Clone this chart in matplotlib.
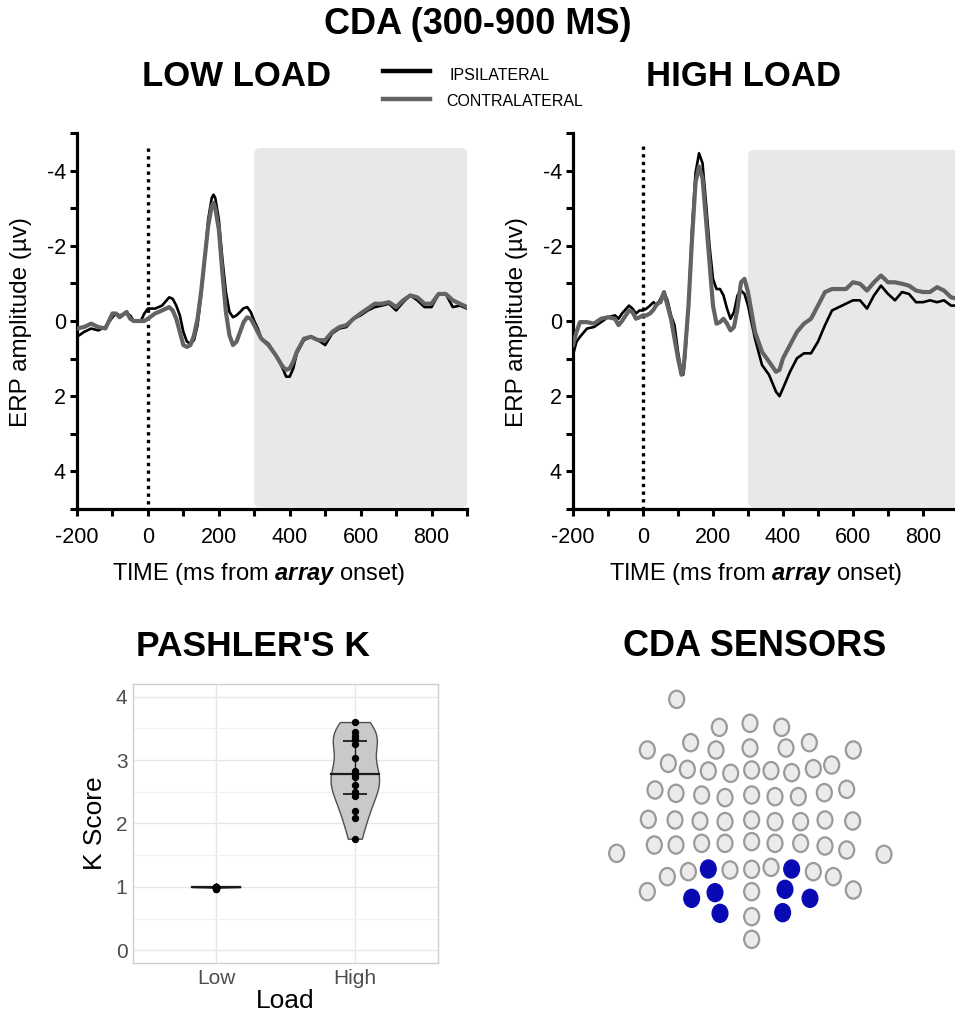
import matplotlib
matplotlib.use('Agg')
import matplotlib.pyplot as plt
from matplotlib.patches import FancyBboxPatch, Ellipse
from matplotlib.lines import Line2D
from matplotlib.ticker import MultipleLocator
import numpy as np

plt.rcParams['font.family'] = ['Liberation Sans', 'DejaVu Sans']
plt.rcParams['axes.unicode_minus'] = False
plt.rcParams['mathtext.fontset'] = 'custom'
plt.rcParams['mathtext.rm'] = 'Liberation Sans'
plt.rcParams['mathtext.it'] = 'Liberation Sans:italic'
plt.rcParams['mathtext.bf'] = 'Liberation Sans:bold'
plt.rcParams['mathtext.bfit'] = 'Liberation Sans:italic:bold'

# ---------------- DATA ----------------
time_low = [-200, -180, -160, -140, -120, -100, -90, -80, -60, -50, -40, -20, -10, 0, 20, 40, 60, 70, 80, 90,
            100, 110, 120, 130, 140, 150, 160, 170, 180, 185, 190, 200, 210, 220, 230, 240, 250, 260, 270, 280,
            290, 300, 310, 320, 340, 360, 380, 390, 400, 410, 420, 440, 460, 480, 500, 520, 540, 560, 580, 600,
            620, 640, 660, 680, 700, 720, 740, 760, 780, 800, 820, 840, 860, 880, 900]
ipsi_low = [0.42, 0.29, 0.20, 0.25, 0.16, -0.10, -0.20, -0.15, -0.20, -0.15, 0.00, 0.00, -0.20, -0.33, -0.33, -0.41, -0.63, -0.59, -0.41, -0.15,
            0.29, 0.55, 0.60, 0.51, 0.11, -0.68, -1.65, -2.70, -3.27, -3.36, -3.27, -2.70, -1.65, -0.77, -0.24, -0.10, -0.15, -0.24, -0.34, -0.37,
            -0.24, 0.00, 0.20, 0.47, 0.60, 0.90, 1.26, 1.48, 1.48, 1.26, 0.86, 0.51, 0.42, 0.51, 0.64, 0.33, 0.20, 0.16, -0.06, -0.15,
            -0.28, -0.37, -0.41, -0.46, -0.28, -0.50, -0.68, -0.55, -0.37, -0.37, -0.72, -0.72, -0.37, -0.41, -0.33]
contra_low = [0.20, 0.16, 0.07, 0.16, 0.20, -0.20, -0.20, -0.10, -0.24, -0.06, 0.00, 0.00, 0.00, -0.06, -0.20, -0.28, -0.37, -0.28, -0.06, 0.29,
              0.64, 0.69, 0.64, 0.38, -0.06, -0.77, -1.65, -2.53, -3.05, -3.14, -3.00, -2.44, -1.29, -0.24, 0.38, 0.64, 0.55, 0.29, 0.03, -0.10,
              -0.06, 0.11, 0.30, 0.47, 0.64, 0.90, 1.21, 1.30, 1.26, 1.08, 0.82, 0.47, 0.42, 0.51, 0.51, 0.29, 0.16, 0.11, -0.06, -0.20,
              -0.33, -0.46, -0.46, -0.50, -0.37, -0.55, -0.68, -0.63, -0.46, -0.46, -0.72, -0.72, -0.55, -0.46, -0.37]

time_high = [-200, -190, -180, -160, -140, -120, -100, -80, -70, -60, -40, -30, -20, -10, 0, 10, 20, 30, 40, 50,
             60, 70, 80, 90, 100, 110, 115, 120, 130, 140, 150, 160, 170, 180, 190, 200, 210, 220, 230, 240,
             250, 260, 270, 280, 290, 300, 310, 320, 340, 360, 380, 390, 400, 420, 440, 460, 480, 500, 520, 540,
             560, 580, 600, 620, 640, 660, 680, 700, 720, 740, 760, 780, 800, 820, 840, 860, 880, 900]
ipsi_high = [0.90, 0.55, 0.42, 0.20, 0.16, 0.03, -0.10, -0.15, -0.06, -0.20, -0.41, -0.33, -0.20, -0.28, -0.28, -0.33, -0.41, -0.50, -0.41, -0.59,
             -0.77, -0.55, -0.15, 0.11, 0.82, 1.39, 1.43, 0.99, -0.41, -2.44, -3.93, -4.46, -4.20, -3.14, -2.00, -1.12, -0.85, -0.85, -0.68, -0.33,
             -0.06, -0.24, -0.68, -0.81, -0.72, -0.41, 0.03, 0.47, 1.17, 1.43, 1.88, 2.00, 1.79, 1.35, 0.99, 0.86, 0.86, 0.55, 0.11, -0.28,
             -0.37, -0.46, -0.55, -0.55, -0.33, -0.68, -0.94, -0.72, -0.55, -0.77, -0.72, -0.50, -0.50, -0.55, -0.50, -0.55, -0.41, -0.41]
contra_high = [0.64, 0.29, 0.03, 0.03, 0.07, -0.06, -0.10, -0.06, 0.11, 0.00, -0.28, -0.24, -0.06, -0.10, -0.15, -0.15, -0.20, -0.30, -0.46, -0.50,
               -0.77, -0.41, -0.06, 0.47, 0.99, 1.43, 1.34, 0.82, -0.41, -2.17, -3.67, -4.11, -3.80, -2.70, -1.56, -0.41, 0.07, 0.03, -0.06, 0.07,
               0.25, 0.16, -0.33, -1.03, -1.12, -0.77, -0.24, 0.29, 0.82, 1.08, 1.35, 1.30, 0.99, 0.64, 0.29, 0.07, -0.06, -0.41, -0.77, -0.85,
               -0.85, -0.85, -1.03, -0.99, -0.81, -1.03, -1.21, -1.03, -1.03, -0.99, -0.94, -0.81, -0.77, -0.77, -0.90, -0.81, -0.63, -0.59]

cda_window = [300, 900]

load_labels = ['Low', 'High']
k_low = [1.0, 1.0, 1.0, 1.0, 1.0, 1.0, 1.0, 1.0, 1.0, 1.0, 1.0, 1.0, 0.99, 0.98, 0.97, 0.96]
k_high = [3.60, 3.44, 3.38, 3.34, 3.26, 3.04, 2.83, 2.78, 2.74, 2.61, 2.49, 2.44, 2.20, 2.09, 1.76]

sensor_x = [260,
            388, 480, 575,
            172, 302, 378, 480, 588, 658, 790,
            235, 292, 355, 422, 485, 543, 605, 670, 725,
            195, 258, 335, 405, 485, 555, 625, 703, 770,
            175, 255, 330, 405, 485, 555, 632, 705, 788,
            80, 193, 258, 335, 405, 485, 555, 632, 705, 770, 882,
            232, 295, 355, 420, 485, 543, 605, 670, 730,
            172, 305, 375, 485, 585, 660, 790,
            390, 485, 578,
            485]
sensor_y = [88,
            172, 160, 172,
            240, 218, 240, 234, 234, 218, 240,
            280, 298, 303, 310, 300, 302, 308, 296, 285,
            360, 370, 375, 383, 375, 380, 380, 368, 358,
            448, 450, 453, 455, 450, 455, 455, 450, 453,
            550, 525, 525, 520, 520, 515, 520, 520, 528, 540, 553,
            620, 605, 597, 600, 598, 592, 597, 605, 620,
            665, 685, 668, 665, 658, 685, 660,
            730, 740, 728,
            808]
sensor_selected = [0,
                   0, 0, 0,
                   0, 0, 0, 0, 0, 0, 0,
                   0, 0, 0, 0, 0, 0, 0, 0, 0,
                   0, 0, 0, 0, 0, 0, 0, 0, 0,
                   0, 0, 0, 0, 0, 0, 0, 0, 0,
                   0, 0, 0, 0, 0, 0, 0, 0, 0, 0, 0,
                   0, 0, 1, 0, 0, 0, 1, 0, 0,
                   0, 1, 1, 0, 1, 1, 0,
                   1, 0, 1,
                   0]

# ---------------- FIGURE ----------------
W, H = 955, 1016
fig = plt.figure(figsize=(W / 100, H / 100), dpi=100)


def px_axes(l, r, t, b):
    return fig.add_axes([l / W, 1 - b / H, (r - l) / W, (b - t) / H])


def ftext(x, y, s, **kw):
    return fig.text(x / W, 1 - y / H, s, **kw)


IPSI_C = 'black'
CONTRA_C = '#636363'


def erp_panel(l, r, t, b, times, ipsi, contra, box_top, dot_top):
    ax = px_axes(l, r, t, b)
    ax.set_xlim(-200, 900)
    ax.set_ylim(5, -5)
    box = FancyBboxPatch((cda_window[0], box_top), cda_window[1] - cda_window[0], 4.95 - box_top,
                         boxstyle="round,pad=0,rounding_size=17", mutation_aspect=0.0095,
                         facecolor='#e8e8e8', edgecolor='none', zorder=0)
    ax.add_patch(box)
    ax.plot([0, 0], [dot_top, 5], color='black', lw=2.4, ls=(0, (1, 1.3)), zorder=1)
    ax.plot(times, ipsi, color=IPSI_C, lw=1.9, zorder=3)
    ax.plot(times, contra, color=CONTRA_C, lw=3.0, zorder=4)
    for s in ['top', 'right']:
        ax.spines[s].set_visible(False)
    for s in ['left', 'bottom']:
        ax.spines[s].set_linewidth(2.3)
    ax.xaxis.set_major_locator(MultipleLocator(200))
    ax.xaxis.set_minor_locator(MultipleLocator(100))
    ax.yaxis.set_major_locator(MultipleLocator(2))
    ax.yaxis.set_minor_locator(MultipleLocator(1))
    ax.tick_params(which='both', direction='out', length=5, width=2.2, color='black')
    ax.tick_params(axis='x', which='major', labelsize=15.5, pad=8)
    ax.tick_params(axis='y', which='major', labelsize=15.5, pad=3)
    ax.set_facecolor('none')
    return ax


ax1 = erp_panel(77, 467, 133, 509, time_low, ipsi_low, contra_low, -4.6, -4.6)
ax2 = erp_panel(573, 958, 133, 509, time_high, ipsi_high, contra_high, -4.55, -4.65)

xlab = r'TIME (ms from $\mathbfit{array}$ onset)'
ftext(259, 574, xlab, ha='center', va='center', fontsize=17)
ftext(756, 574, xlab, ha='center', va='center', fontsize=17)
ftext(21, 322, 'ERP amplitude (µv)', ha='center', va='center', rotation=90, fontsize=17.5)
ftext(517, 322, 'ERP amplitude (µv)', ha='center', va='center', rotation=90, fontsize=17.5)

# titles
ftext(478, 25, 'CDA (300-900 MS)', ha='center', va='center', fontsize=26, fontweight='bold')
ftext(237, 77, 'LOW LOAD', ha='center', va='center', fontsize=25, fontweight='bold')
ftext(744, 77, 'HIGH LOAD', ha='center', va='center', fontsize=25, fontweight='bold')
ftext(253, 646, "PASHLER'S K", ha='center', va='center', fontsize=25.5, fontweight='bold')
ftext(755, 646, 'CDA SENSORS', ha='center', va='center', fontsize=26, fontweight='bold')

# legend
fig.add_artist(Line2D([383 / W, 430 / W], [1 - 70.5 / H, 1 - 70.5 / H], color=IPSI_C, lw=3.2))
fig.add_artist(Line2D([383 / W, 430 / W], [1 - 99 / H, 1 - 99 / H], color=CONTRA_C, lw=3.2))
ftext(449, 76, 'IPSILATERAL', ha='left', va='center', fontsize=11.5)
ftext(446, 101, 'CONTRALATERAL', ha='left', va='center', fontsize=11.5)

# ---------------- VIOLIN ----------------
axv = px_axes(133, 438, 684, 963)
axv.set_xlim(0.4, 2.6)
axv.set_ylim(-0.2, 4.2)
axv.set_yticks([0, 1, 2, 3, 4])
axv.set_yticks([0.5, 1.5, 2.5, 3.5], minor=True)
axv.set_xticks([1, 2])
axv.set_xticklabels(load_labels)
axv.grid(True, which='major', color='#e6e6e6', lw=1.0, zorder=0)
axv.grid(True, which='minor', axis='y', color='#f1f1f1', lw=0.8, zorder=0)
axv.set_axisbelow(True)
for s in axv.spines.values():
    s.set_color('#d0d0d0')
    s.set_linewidth(1.0)
axv.tick_params(which='both', length=0, labelsize=15, labelcolor='#4d4d4d', pad=4)
axv.set_ylabel('K Score', fontsize=19, labelpad=6)
axv.set_xlabel('Load', fontsize=19, labelpad=1)

groups = [k_low, k_high]
vp = axv.violinplot(groups, positions=[1, 2], widths=0.35, showextrema=False, bw_method=0.45)
for i, body in enumerate(vp['bodies']):
    body.set_facecolor('#c9c9c9')
    body.set_edgecolor('#505050')
    body.set_linewidth(1.0)
    body.set_alpha(1)
    body.set_zorder(2)
    pos = i + 1
    verts = body.get_paths()[0].vertices
    right = verts[verts[:, 0] >= pos]
    order = np.argsort(right[:, 1])
    yy = right[order, 1]
    hw = right[order, 0] - pos
    data = np.array(groups[i])
    med = np.median(data)
    q1, q3 = np.percentile(data, [25, 75])
    w = np.interp(med, yy, hw)
    axv.plot([pos - w, pos + w], [med, med], color='#1a1a1a', lw=1.6, zorder=3)
    axv.errorbar([pos], [med], yerr=[[med - q1], [q3 - med]], fmt='none', ecolor='#1a1a1a',
                 elinewidth=1.0, capsize=8.5, capthick=1.3, zorder=4)
    axv.scatter(np.full(len(data), pos), data, s=28, color='black', zorder=5, linewidths=0)

# ---------------- SENSORS ----------------
axs = px_axes(590, 910, 670, 960)
axs.set_xlim(0, 960)
axs.set_ylim(870, 0)
axs.axis('off')
for x, y, sel in zip(sensor_x, sensor_y, sensor_selected):
    if sel:
        e = Ellipse((x, y), 47, 54, facecolor='#0a0ab4', edgecolor='#0a0ab4', lw=1.0)
    else:
        e = Ellipse((x, y), 45, 52, facecolor='#ebebeb', edgecolor='#9a9a9a', lw=1.6)
    axs.add_patch(e)

fig.savefig('out.png', dpi=100)
